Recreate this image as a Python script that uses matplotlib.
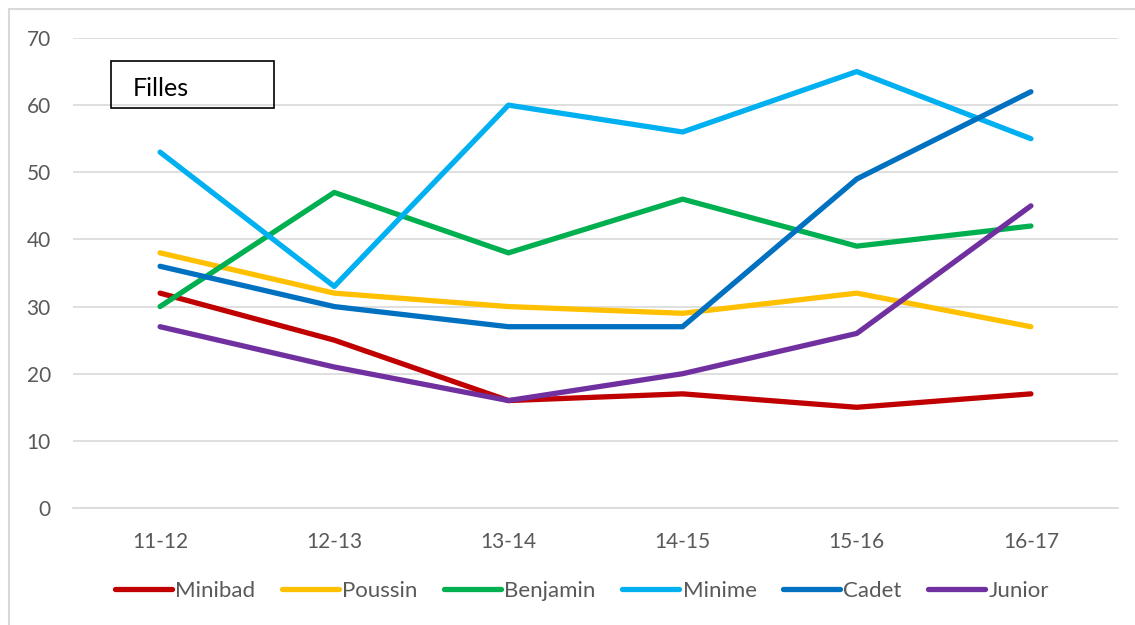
import matplotlib
matplotlib.use("Agg")
import matplotlib.pyplot as plt
from matplotlib.patches import Rectangle

categories = ["11-12", "12-13", "13-14", "14-15", "15-16", "16-17"]
minibad = [32, 25, 16, 17, 15, 17]
poussin = [38, 32, 30, 29, 32, 27]
benjamin = [30, 47, 38, 46, 39, 42]
minime = [53, 33, 60, 56, 65, 55]
cadet = [36, 30, 27, 27, 49, 62]
junior = [27, 21, 16, 20, 26, 45]
series_names = ["Minibad", "Poussin", "Benjamin", "Minime", "Cadet", "Junior"]
colors = ["#C00000", "#FFC000", "#00B050", "#00B0F0", "#0070C0", "#7030A0"]
yticks = [0, 10, 20, 30, 40, 50, 60, 70]

plt.rcParams['font.family'] = ['Lato', 'DejaVu Sans']

W, H = 1135, 625
fig = plt.figure(figsize=(W / 100, H / 100), dpi=100)
ax = fig.add_axes([73 / W, 1 - 508 / H, (1118 - 73) / W, (508 - 38) / H])

x = list(range(len(categories)))
for name, vals, c in zip(series_names, [minibad, poussin, benjamin, minime, cadet, junior], colors):
    ax.plot(x, vals, color=c, lw=3.8, solid_capstyle='round', solid_joinstyle='round', label=name)

ax.set_xlim(-0.5, len(categories) - 0.5)
ax.set_ylim(0, 70)
ax.set_yticks(yticks)
ax.set_xticks(x)
ax.set_xticklabels(categories)
ax.grid(axis='y', color='#D9D9D9', lw=1.2)
ax.set_axisbelow(True)
for s in ['top', 'right', 'left']:
    ax.spines[s].set_visible(False)
ax.spines['bottom'].set_color('#D9D9D9')
ax.spines['bottom'].set_linewidth(1.2)
ax.tick_params(axis='both', length=0, labelsize=15, labelcolor='#595959')
ax.tick_params(axis='x', pad=17)
ax.tick_params(axis='y', pad=16)

# Title box
fig.text(133 / W, 1 - 89 / H, "Filles", fontsize=18, color='black', va='center', ha='left')
fig.add_artist(Rectangle((111 / W, 1 - 108 / H), (274 - 111) / W, (108 - 61) / H,
                         transform=fig.transFigure, fill=False, edgecolor='black', lw=1.2))

# Outer chart border
fig.add_artist(Rectangle((9 / W, -0.05), 1.2, 1 - 9 / H + 0.05,
                         transform=fig.transFigure, fill=False, edgecolor='#D9D9D9', lw=1.5))

leg = fig.legend(loc='center', bbox_to_anchor=(582 / W, 1 - 591 / H), ncol=6, frameon=False,
                 fontsize=16, handlelength=2.56, handletextpad=0.15, columnspacing=1.2)
for t in leg.get_texts():
    t.set_color('#595959')

fig.savefig("out.png", dpi=100)
